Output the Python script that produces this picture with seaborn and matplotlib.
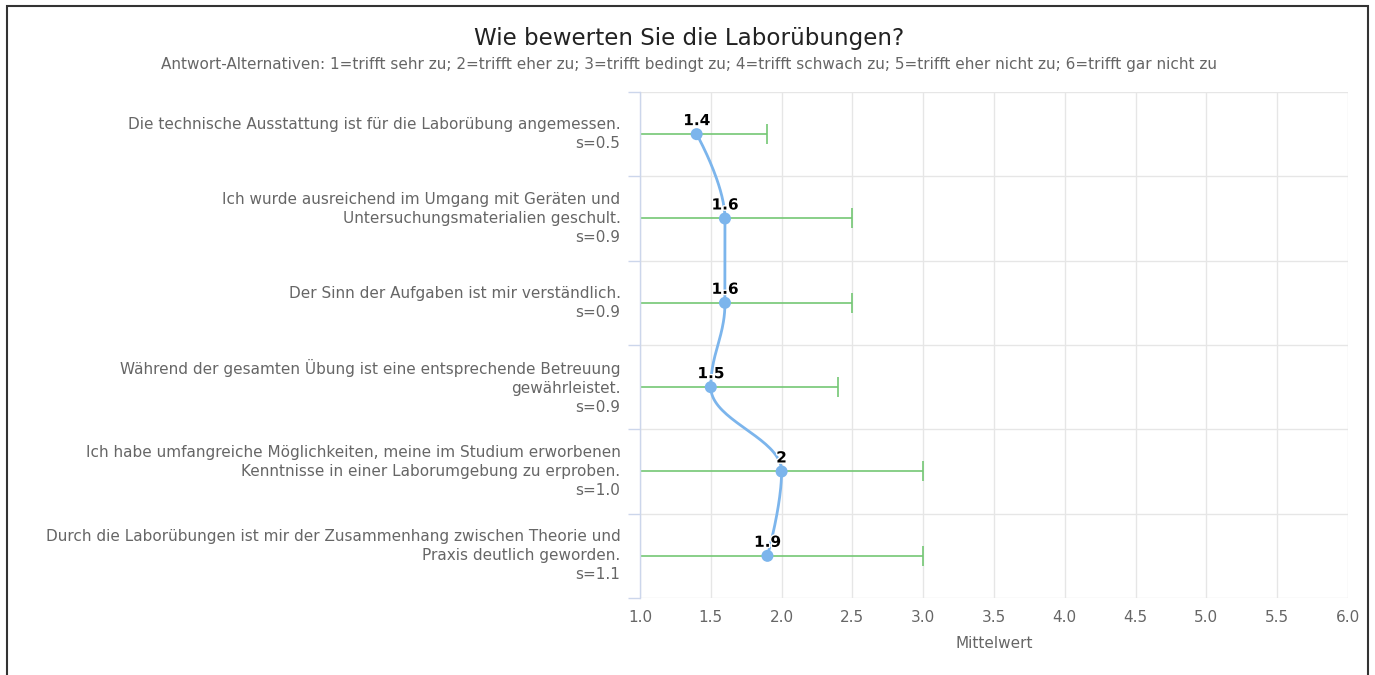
import numpy as np
import pandas as pd
import matplotlib
matplotlib.use('Agg')
import matplotlib.pyplot as plt
import seaborn as sns
from matplotlib.patches import Rectangle
import matplotlib.patheffects as pe

# Daten der Umfrage
fragen = [
    'Die technische Ausstattung ist für die Laborübung angemessen.',
    'Ich wurde ausreichend im Umgang mit Geräten und\nUntersuchungsmaterialien geschult.',
    'Der Sinn der Aufgaben ist mir verständlich.',
    'Während der gesamten Übung ist eine entsprechende Betreuung\ngewährleistet.',
    'Ich habe umfangreiche Möglichkeiten, meine im Studium erworbenen\nKenntnisse in einer Laborumgebung zu erproben.',
    'Durch die Laborübungen ist mir der Zusammenhang zwischen Theorie und\nPraxis deutlich geworden.',
]
mittelwert = [1.4, 1.6, 1.6, 1.5, 2.0, 1.9]
streuung = [0.5, 0.9, 0.9, 0.9, 1.0, 1.1]
wert_texte = ['1.4', '1.6', '1.6', '1.5', '2', '1.9']
x_ticks = [1.0, 1.5, 2.0, 2.5, 3.0, 3.5, 4.0, 4.5, 5.0, 5.5, 6.0]

titel = 'Wie bewerten Sie die Laborübungen?'
untertitel = ('Antwort-Alternativen: 1=trifft sehr zu; 2=trifft eher zu; 3=trifft bedingt zu; '
              '4=trifft schwach zu; 5=trifft eher nicht zu; 6=trifft gar nicht zu')

blau = '#7cb5ec'
gruen = '#74c774'
grau_text = '#666666'
grid = '#e6e6e6'
achse = '#ccd6eb'

df = pd.DataFrame({'frage': fragen, 'mittel': mittelwert, 's': streuung})
df['pos'] = np.arange(len(df))
df['label'] = [f + '\ns=' + f'{s:.1f}' for f, s in zip(df['frage'], df['s'])]


# Spline wie bei Highcharts (smoothing 1.5), kat = Kategorie, val = Wert
def spline_pfad(kat, val, n=40):
    kat = list(kat)
    val = list(val)
    m = len(kat)
    left = [(k, v) for k, v in zip(kat, val)]
    right = [(k, v) for k, v in zip(kat, val)]
    sm = 1.5
    den = sm + 1
    for i in range(1, m - 1):
        px, py = kat[i], val[i]
        lx, ly = kat[i - 1], val[i - 1]
        nx, ny = kat[i + 1], val[i + 1]
        lcx = (sm * px + lx) / den
        lcy = (sm * py + ly) / den
        rcx = (sm * px + nx) / den
        rcy = (sm * py + ny) / den
        if rcx != lcx:
            corr = (rcy - lcy) * (rcx - px) / (rcx - lcx) + py - rcy
            lcy += corr
            rcy += corr
        if lcy > ly and lcy > py:
            lcy = max(ly, py)
            rcy = 2 * py - lcy
        elif lcy < ly and lcy < py:
            lcy = min(ly, py)
            rcy = 2 * py - lcy
        if rcy > ny and rcy > py:
            rcy = max(ny, py)
            lcy = 2 * py - rcy
        elif rcy < ny and rcy < py:
            rcy = min(ny, py)
            lcy = 2 * py - rcy
        left[i] = (lcx, lcy)
        right[i] = (rcx, rcy)
    ks, vs = [], []
    t = np.linspace(0, 1, n)
    for i in range(1, m):
        p0 = np.array([kat[i - 1], val[i - 1]])
        p1 = np.array(right[i - 1])
        p2 = np.array(left[i])
        p3 = np.array([kat[i], val[i]])
        b = ((1 - t)[:, None] ** 3 * p0 + 3 * ((1 - t) ** 2 * t)[:, None] * p1
             + 3 * ((1 - t) * t ** 2)[:, None] * p2 + (t ** 3)[:, None] * p3)
        ks.extend(b[:, 0])
        vs.extend(b[:, 1])
    return np.array(ks), np.array(vs)


sns.set_theme(style='white')
plt.rcParams['font.family'] = ['DejaVu Sans']

fig = plt.figure(figsize=(13.75, 6.75), dpi=100)
ax = fig.add_axes([640 / 1375, 1 - 598 / 675, (1348 - 640) / 1375, (598 - 92) / 675])

# Fehlerbalken (Mittelwert +/- s)
ax.errorbar(df['mittel'], df['pos'], xerr=df['s'], fmt='none', ecolor=gruen,
            elinewidth=1.2, capsize=7.2, capthick=1.2, zorder=2)

# geglättete Linie
kk, vv = spline_pfad(df['pos'], df['mittel'])
ax.plot(vv, kk, color=blau, lw=2, zorder=3, clip_on=False)

sns.scatterplot(data=df, x='mittel', y='pos', ax=ax, color=blau, s=75,
                edgecolor='none', zorder=4, clip_on=False)

for m, p, txt in zip(df['mittel'], df['pos'], wert_texte):
    ax.annotate(txt, (m, p), xytext=(0, 6.5), textcoords='offset points',
                ha='center', va='baseline', fontsize=11, fontweight='bold',
                color='black', zorder=5,
                path_effects=[pe.withStroke(linewidth=2, foreground='white')])

ax.set_xlim(1, 6)
ax.set_ylim(len(df) - 0.5, -0.5)
ax.set_xticks(x_ticks)
ax.set_xticklabels([f'{x:.1f}' for x in x_ticks])
ax.set_yticks(df['pos'])
ax.set_yticklabels(df['label'])
ax.set_yticks(np.arange(-0.5, len(df), 1.0), minor=True)

ax.tick_params(axis='x', length=0, pad=9, labelsize=11, labelcolor=grau_text)
ax.tick_params(axis='y', which='major', length=0, pad=14, labelsize=11,
               labelcolor=grau_text)
ax.tick_params(axis='y', which='minor', length=8.6, width=1, color=achse, left=True)
for t in ax.get_yticklabels():
    t.set_linespacing(1.33)
    t.set_verticalalignment('center')

ax.grid(False)
ax.xaxis.grid(True, color=grid, lw=1)
ax.yaxis.grid(True, which='minor', color=grid, lw=1)
for sp in ['top', 'right', 'bottom']:
    ax.spines[sp].set_visible(False)
ax.spines['left'].set_color(achse)
ax.spines['left'].set_linewidth(1)

ax.set_ylabel('')
ax.set_xlabel('Mittelwert', fontsize=11, color=grau_text)
ax.xaxis.set_label_coords(0.5, -0.075)

fig.text(0.5015, 1 - 38 / 675, titel, ha='center', va='center', fontsize=16.6, color='#222222')
fig.text(0.501, 1 - 65 / 675, untertitel, ha='center', va='center', fontsize=11, color=grau_text)

# Rahmen um das Diagramm
fig.add_artist(Rectangle((7 / 1375, -0.05), (1368 - 7) / 1375, 1.05 - 6 / 675,
                         transform=fig.transFigure, fill=False, edgecolor='#333333',
                         lw=1.5, clip_on=False))

fig.savefig('out.png', dpi=100)
